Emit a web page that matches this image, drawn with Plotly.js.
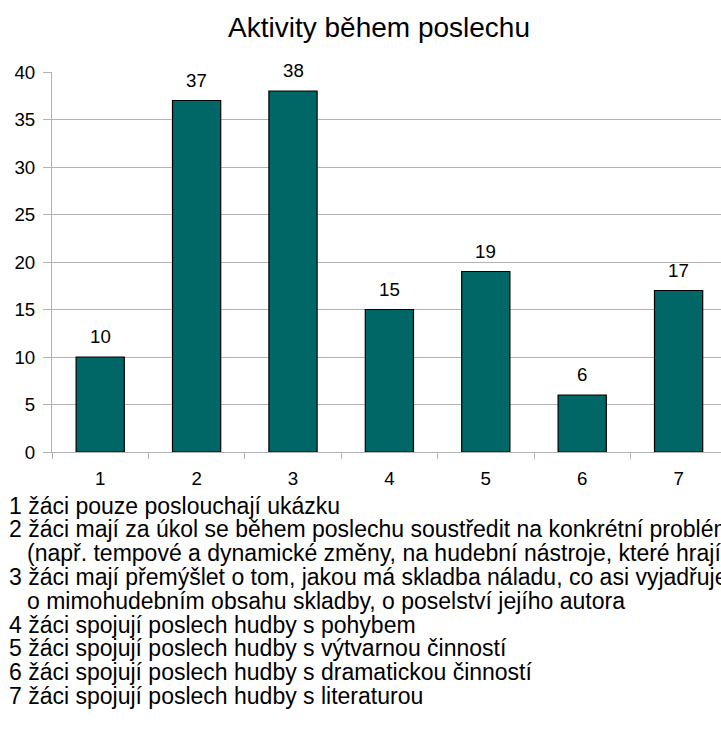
<!DOCTYPE html>
<html>
<head>
<meta charset="utf-8">
<script src="https://cdn.plot.ly/plotly-3.0.1.min.js"></script>
<style>html,body{margin:0;padding:0;background:#fff;}#chart{width:721px;height:742px;}</style>
</head>
<body>
<div id="chart"></div>
<script>
const chartTitle = "Aktivity během poslechu";
const categories = [1, 2, 3, 4, 5, 6, 7];
const values = [10, 37, 38, 15, 19, 6, 17];
const yTicks = [0, 5, 10, 15, 20, 25, 30, 35, 40];
const legendLines = [
  "1 žáci pouze poslouchají ukázku",
  "2 žáci mají za úkol se během poslechu soustředit na konkrétní problém",
  "(např. tempové a dynamické změny, na hudební nástroje, které hrají)",
  "3 žáci mají přemýšlet o tom, jakou má skladba náladu, co asi vyjadřuje",
  "o mimohudebním obsahu skladby, o poselství jejího autora",
  "4 žáci spojují poslech hudby s pohybem",
  "5 žáci spojují poslech hudby s výtvarnou činností",
  "6 žáci spojují poslech hudby s dramatickou činností",
  "7 žáci spojují poslech hudby s literaturou"
];
const legendIndent = [false, false, true, false, true, false, false, false, false];

const W = 721, H = 742;
const mL = 52, mR = 0, mT = 72, mB = 290;
const plotW = W - mL - mR, plotH = H - mT - mB;
const catW = 96.4;
const xMax = 0.5 + plotW / catW;

const font = "'Liberation Sans', Arial, sans-serif";
const boundaries = [];
for (let i = 0; i <= categories.length; i++) boundaries.push(categories[0] - 0.5 + i);

const legendAnn = legendLines.map((t, i) => {
  const px = legendIndent[i] ? 25 : 7;
  const py = 505.5 + i * 23.8;
  return {
    text: t, xref: 'paper', yref: 'paper',
    x: (px - mL) / plotW, y: (H - mB - py) / plotH,
    xanchor: 'left', yanchor: 'middle', showarrow: false,
    font: {family: font, size: 23, color: '#000'}
  };
});

const valueAnn = categories.map((c, i) => ({
  text: String(values[i]), x: c, y: values[i], xref: 'x', yref: 'y',
  xanchor: 'center', yanchor: 'bottom', yshift: 8, showarrow: false,
  font: {family: font, size: 18.7, color: '#000'}
}));

const data = [{
  type: 'bar', x: categories, y: values, width: 0.5,
  marker: {color: '#006666', line: {color: '#000', width: 1.2}},
  hoverinfo: 'none'
}, {
  type: 'scatter', x: [categories[0]], y: [0], xaxis: 'x2', mode: 'markers',
  marker: {opacity: 0}, hoverinfo: 'none', showlegend: false
}];

const layout = {
  width: W, height: H,
  margin: {l: mL, r: mR, t: mT, b: mB, pad: 0},
  paper_bgcolor: '#fff', plot_bgcolor: '#fff',
  showlegend: false,
  title: {text: chartTitle, font: {family: font, size: 28, color: '#000'}, x: 379 / W, xref: 'container', xanchor: 'center', y: 1 - 27 / H, yanchor: 'middle'},
  xaxis: {
    range: [0.5, xMax], tickvals: categories, ticktext: categories.map(String),
    ticks: '', showgrid: false, zeroline: false, showline: true, linecolor: '#b3b3b3', linewidth: 1,
    ticklabelstandoff: 10,
    tickfont: {family: font, size: 18.7, color: '#000'}, fixedrange: true
  },
  xaxis2: {
    overlaying: 'x', range: [0.5, xMax], tickvals: boundaries, showticklabels: false,
    ticks: 'outside', ticklen: 6, tickcolor: '#b3b3b3', tickwidth: 1, showgrid: false, zeroline: false, showline: false
  },
  yaxis: {
    range: [0, 40], tickvals: yTicks, ticks: 'outside', ticklen: 8, tickcolor: '#b3b3b3',
    ticklabelstandoff: 4,
    showgrid: true, gridcolor: '#b3b3b3', gridwidth: 1, zeroline: false,
    showline: true, linecolor: '#b3b3b3', linewidth: 1,
    tickfont: {family: font, size: 18.7, color: '#000'}, fixedrange: true
  },
  annotations: valueAnn.concat(legendAnn),
  bargap: 0.5
};

Plotly.newPlot('chart', data, layout, {displayModeBar: false, staticPlot: true});
</script>
</body>
</html>
